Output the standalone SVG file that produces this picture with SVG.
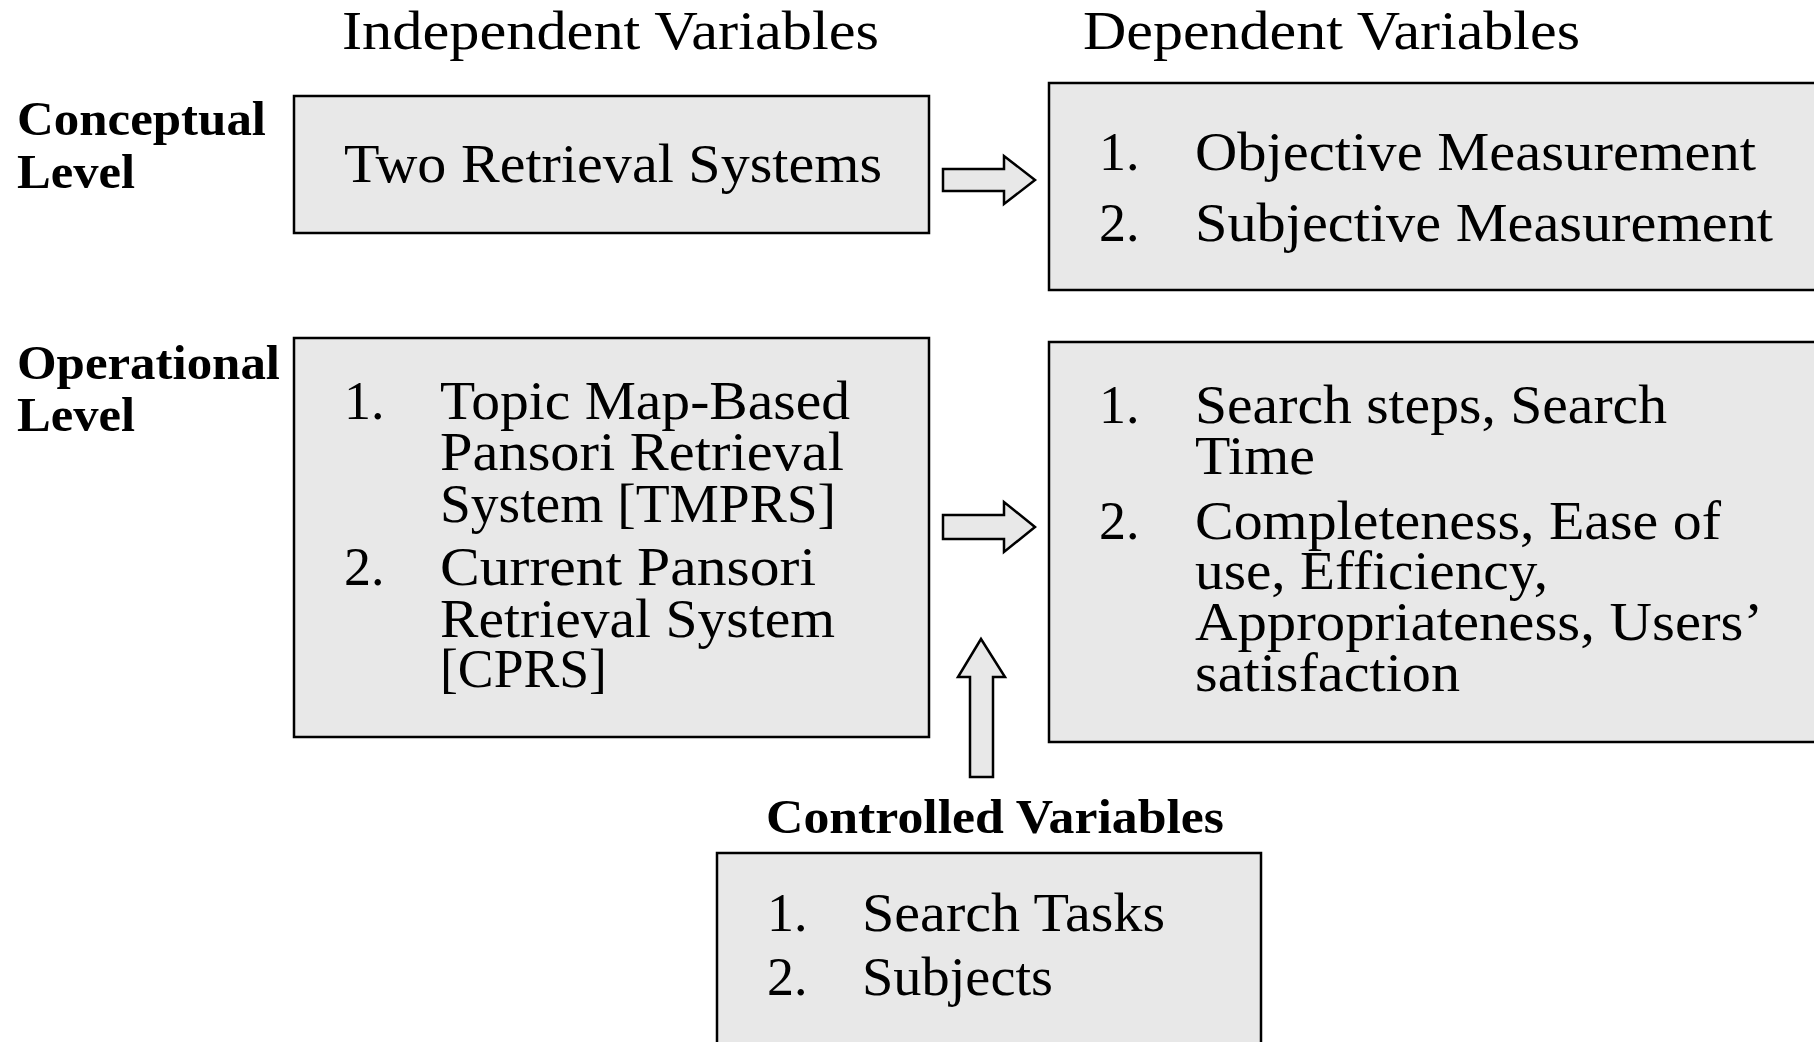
<svg xmlns="http://www.w3.org/2000/svg" width="1814" height="1042" viewBox="0 0 1814 1042">
<style>
.t{font-family:"Liberation Serif","DejaVu Serif",serif;font-size:54px;fill:#000}
.b{font-family:"Liberation Serif","DejaVu Serif",serif;font-size:48px;font-weight:bold;fill:#000}
.box{fill:#e8e8e8;stroke:#000;stroke-width:2.5}
.arr{fill:#e8e8e8;stroke:#000;stroke-width:2.5;stroke-linejoin:miter}
</style>
<rect width="1814" height="1042" fill="#fff"/>
<g id="labels">
<text class="t" x="342" y="49" textLength="537" lengthAdjust="spacingAndGlyphs">Independent Variables</text>
<text class="t" x="1083" y="49" textLength="497" lengthAdjust="spacingAndGlyphs">Dependent Variables</text>
<text class="b" x="17" y="135" textLength="249" lengthAdjust="spacingAndGlyphs">Conceptual</text>
<text class="b" x="17" y="188" textLength="118" lengthAdjust="spacingAndGlyphs">Level</text>
<text class="b" x="17" y="379" textLength="263" lengthAdjust="spacingAndGlyphs">Operational</text>
<text class="b" x="17" y="431" textLength="118" lengthAdjust="spacingAndGlyphs">Level</text>
<text class="b" x="766" y="833" textLength="458" lengthAdjust="spacingAndGlyphs">Controlled Variables</text>
</g>
<g id="iv-conceptual">
<rect class="box" x="294" y="96" width="635" height="137"/>
<text class="t" x="344" y="182" textLength="538" lengthAdjust="spacingAndGlyphs">Two Retrieval Systems</text>
</g>
<g id="dv-conceptual">
<rect class="box" x="1049" y="83" width="780" height="207"/>
<text class="t" x="1099" y="170">1.</text>
<text class="t" x="1195" y="170" textLength="561" lengthAdjust="spacingAndGlyphs">Objective Measurement</text>
<text class="t" x="1099" y="241">2.</text>
<text class="t" x="1195" y="241" textLength="578" lengthAdjust="spacingAndGlyphs">Subjective Measurement</text>
</g>
<g id="iv-operational">
<rect class="box" x="294" y="338" width="635" height="399"/>
<text class="t" x="344" y="419">1.</text>
<text class="t" x="440" y="419" textLength="410" lengthAdjust="spacingAndGlyphs">Topic Map-Based</text>
<text class="t" x="440" y="470" textLength="404" lengthAdjust="spacingAndGlyphs">Pansori Retrieval</text>
<text class="t" x="440" y="522" textLength="396" lengthAdjust="spacingAndGlyphs">System [TMPRS]</text>
<text class="t" x="344" y="585">2.</text>
<text class="t" x="440" y="585" textLength="376" lengthAdjust="spacingAndGlyphs">Current Pansori</text>
<text class="t" x="440" y="637" textLength="395" lengthAdjust="spacingAndGlyphs">Retrieval System</text>
<text class="t" x="440" y="687" textLength="167" lengthAdjust="spacingAndGlyphs">[CPRS]</text>
</g>
<g id="dv-operational">
<rect class="box" x="1049" y="342" width="780" height="400"/>
<text class="t" x="1099" y="423">1.</text>
<text class="t" x="1195" y="423" textLength="472" lengthAdjust="spacingAndGlyphs">Search steps, Search</text>
<text class="t" x="1195" y="474" textLength="120" lengthAdjust="spacingAndGlyphs">Time</text>
<text class="t" x="1099" y="539">2.</text>
<text class="t" x="1195" y="539" textLength="526" lengthAdjust="spacingAndGlyphs">Completeness, Ease of</text>
<text class="t" x="1195" y="589" textLength="353" lengthAdjust="spacingAndGlyphs">use, Efficiency,</text>
<text class="t" x="1195" y="640" textLength="568" lengthAdjust="spacingAndGlyphs">Appropriateness, Users’</text>
<text class="t" x="1195" y="691" textLength="265" lengthAdjust="spacingAndGlyphs">satisfaction</text>
</g>
<g id="controlled">
<rect class="box" x="717" y="853" width="544" height="200"/>
<text class="t" x="767" y="931">1.</text>
<text class="t" x="862" y="931" textLength="303" lengthAdjust="spacingAndGlyphs">Search Tasks</text>
<text class="t" x="767" y="995">2.</text>
<text class="t" x="862" y="995" textLength="191" lengthAdjust="spacingAndGlyphs">Subjects</text>
</g>
<g id="connectors">
<polygon class="arr" points="943,169 1004,169 1004,156 1035,180 1004,204 1004,191 943,191"/>
<polygon class="arr" points="943,515 1004,515 1004,502 1035,527 1004,552 1004,539 943,539"/>
<polygon class="arr" points="970,777 970,677 958,677 981,639 1005,677 993,677 993,777"/>
</g>
</svg>
